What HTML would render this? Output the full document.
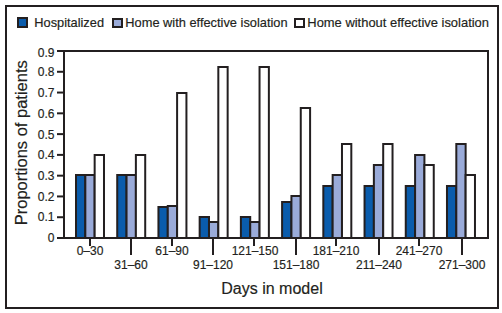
<!DOCTYPE html>
<html><head><meta charset="utf-8"><style>
html,body{margin:0;padding:0;background:#fff;}
body{width:502px;height:313px;overflow:hidden;}
svg{display:block;}
text{font-family:"Liberation Sans",sans-serif;fill:#231f20;stroke:#231f20;stroke-width:0.18px;}
.lg{font-size:12.6px;}
.yl{font-size:12px;text-anchor:end;}
.xl{font-size:12px;text-anchor:middle;}
.ttl{font-size:16px;}
.yt{font-size:16.5px;}
</style></head><body>
<svg width="502" height="313" viewBox="0 0 502 313">
<rect x="6" y="6" width="492" height="302" fill="none" stroke="#231f20" stroke-width="2"/>
<rect x="18" y="18" width="9" height="9" fill="#0a5cac" stroke="#231f20" stroke-width="2"/>
<text x="34.3" y="26.6" class="lg" style="font-size:12.8px">Hospitalized</text>
<rect x="113" y="19" width="9" height="8" fill="#9aabd9" stroke="#231f20" stroke-width="2"/>
<text x="125.3" y="26.6" class="lg" style="font-size:12.84px">Home with effective isolation</text>
<rect x="295" y="19" width="9" height="8" fill="#fff" stroke="#231f20" stroke-width="2"/>
<text x="307.3" y="26.6" class="lg" style="font-size:12.95px">Home without effective isolation</text>
<rect x="76.00" y="175" width="9.33" height="63" fill="#0a5cac" stroke="#231f20" stroke-width="2"/>
<rect x="85.33" y="175" width="9.33" height="63" fill="#9aabd9" stroke="#231f20" stroke-width="2"/>
<rect x="94.66" y="155" width="9.33" height="83" fill="#fff" stroke="#231f20" stroke-width="2"/>
<rect x="117.22" y="175" width="9.33" height="63" fill="#0a5cac" stroke="#231f20" stroke-width="2"/>
<rect x="126.55" y="175" width="9.33" height="63" fill="#9aabd9" stroke="#231f20" stroke-width="2"/>
<rect x="135.88" y="155" width="9.33" height="83" fill="#fff" stroke="#231f20" stroke-width="2"/>
<rect x="158.44" y="207" width="9.33" height="31" fill="#0a5cac" stroke="#231f20" stroke-width="2"/>
<rect x="167.77" y="206" width="9.33" height="32" fill="#9aabd9" stroke="#231f20" stroke-width="2"/>
<rect x="177.10" y="93" width="9.33" height="145" fill="#fff" stroke="#231f20" stroke-width="2"/>
<rect x="199.66" y="217" width="9.33" height="21" fill="#0a5cac" stroke="#231f20" stroke-width="2"/>
<rect x="208.99" y="222" width="9.33" height="16" fill="#9aabd9" stroke="#231f20" stroke-width="2"/>
<rect x="218.32" y="67" width="9.33" height="171" fill="#fff" stroke="#231f20" stroke-width="2"/>
<rect x="240.88" y="217" width="9.33" height="21" fill="#0a5cac" stroke="#231f20" stroke-width="2"/>
<rect x="250.21" y="222" width="9.33" height="16" fill="#9aabd9" stroke="#231f20" stroke-width="2"/>
<rect x="259.54" y="67" width="9.33" height="171" fill="#fff" stroke="#231f20" stroke-width="2"/>
<rect x="282.10" y="202" width="9.33" height="36" fill="#0a5cac" stroke="#231f20" stroke-width="2"/>
<rect x="291.43" y="196" width="9.33" height="42" fill="#9aabd9" stroke="#231f20" stroke-width="2"/>
<rect x="300.76" y="108" width="9.33" height="130" fill="#fff" stroke="#231f20" stroke-width="2"/>
<rect x="323.32" y="186" width="9.33" height="52" fill="#0a5cac" stroke="#231f20" stroke-width="2"/>
<rect x="332.65" y="175" width="9.33" height="63" fill="#9aabd9" stroke="#231f20" stroke-width="2"/>
<rect x="341.98" y="144" width="9.33" height="94" fill="#fff" stroke="#231f20" stroke-width="2"/>
<rect x="364.54" y="186" width="9.33" height="52" fill="#0a5cac" stroke="#231f20" stroke-width="2"/>
<rect x="373.87" y="165" width="9.33" height="73" fill="#9aabd9" stroke="#231f20" stroke-width="2"/>
<rect x="383.20" y="144" width="9.33" height="94" fill="#fff" stroke="#231f20" stroke-width="2"/>
<rect x="405.76" y="186" width="9.33" height="52" fill="#0a5cac" stroke="#231f20" stroke-width="2"/>
<rect x="415.09" y="155" width="9.33" height="83" fill="#9aabd9" stroke="#231f20" stroke-width="2"/>
<rect x="424.42" y="165" width="9.33" height="73" fill="#fff" stroke="#231f20" stroke-width="2"/>
<rect x="446.98" y="186" width="9.33" height="52" fill="#0a5cac" stroke="#231f20" stroke-width="2"/>
<rect x="456.31" y="144" width="9.33" height="94" fill="#9aabd9" stroke="#231f20" stroke-width="2"/>
<rect x="465.64" y="175" width="9.33" height="63" fill="#fff" stroke="#231f20" stroke-width="2"/>
<rect x="64" y="51" width="424" height="187" fill="none" stroke="#231f20" stroke-width="2"/>
<line x1="57" y1="238.00" x2="64" y2="238.00" stroke="#231f20" stroke-width="2"/>
<text x="54.5" y="241.50" class="yl">0</text>
<line x1="57" y1="217.22" x2="64" y2="217.22" stroke="#231f20" stroke-width="2"/>
<text x="54.5" y="220.92" class="yl">0.1</text>
<line x1="57" y1="196.44" x2="64" y2="196.44" stroke="#231f20" stroke-width="2"/>
<text x="54.5" y="200.94" class="yl">0.2</text>
<line x1="57" y1="175.67" x2="64" y2="175.67" stroke="#231f20" stroke-width="2"/>
<text x="54.5" y="180.17" class="yl">0.3</text>
<line x1="57" y1="154.89" x2="64" y2="154.89" stroke="#231f20" stroke-width="2"/>
<text x="54.5" y="159.39" class="yl">0.4</text>
<line x1="57" y1="134.11" x2="64" y2="134.11" stroke="#231f20" stroke-width="2"/>
<text x="54.5" y="138.61" class="yl">0.5</text>
<line x1="57" y1="113.33" x2="64" y2="113.33" stroke="#231f20" stroke-width="2"/>
<text x="54.5" y="117.83" class="yl">0.6</text>
<line x1="57" y1="92.55" x2="64" y2="92.55" stroke="#231f20" stroke-width="2"/>
<text x="54.5" y="97.05" class="yl">0.7</text>
<line x1="57" y1="71.78" x2="64" y2="71.78" stroke="#231f20" stroke-width="2"/>
<text x="54.5" y="76.28" class="yl">0.8</text>
<line x1="57" y1="51.00" x2="64" y2="51.00" stroke="#231f20" stroke-width="2"/>
<text x="54.5" y="56.50" class="yl">0.9</text>
<line x1="90.00" y1="238" x2="90.00" y2="246" stroke="#231f20" stroke-width="2"/>
<text x="90.00" y="255" class="xl">0–30</text>
<line x1="131.00" y1="238" x2="131.00" y2="255" stroke="#231f20" stroke-width="2"/>
<text x="131.00" y="269" class="xl">31–60</text>
<line x1="172.00" y1="238" x2="172.00" y2="246" stroke="#231f20" stroke-width="2"/>
<text x="172.00" y="255" class="xl">61–90</text>
<line x1="213.00" y1="238" x2="213.00" y2="255" stroke="#231f20" stroke-width="2"/>
<text x="213.00" y="269" class="xl">91–120</text>
<line x1="254.00" y1="238" x2="254.00" y2="246" stroke="#231f20" stroke-width="2"/>
<text x="255.00" y="255" class="xl">121–150</text>
<line x1="296.00" y1="238" x2="296.00" y2="255" stroke="#231f20" stroke-width="2"/>
<text x="296.00" y="269" class="xl">151–180</text>
<line x1="336.00" y1="238" x2="336.00" y2="246" stroke="#231f20" stroke-width="2"/>
<text x="336.00" y="255" class="xl">181–210</text>
<line x1="379.00" y1="238" x2="379.00" y2="255" stroke="#231f20" stroke-width="2"/>
<text x="379.00" y="269" class="xl">211–240</text>
<line x1="419.00" y1="238" x2="419.00" y2="246" stroke="#231f20" stroke-width="2"/>
<text x="419.00" y="255" class="xl">241–270</text>
<line x1="462.00" y1="238" x2="462.00" y2="255" stroke="#231f20" stroke-width="2"/>
<text x="462.00" y="269" class="xl">271–300</text>
<text x="272" y="294" class="ttl" text-anchor="middle">Days in model</text>
<text transform="translate(27 225.3) rotate(-90)" x="0" y="0" class="yt">Proportions of patients</text>
</svg>
</body></html>
